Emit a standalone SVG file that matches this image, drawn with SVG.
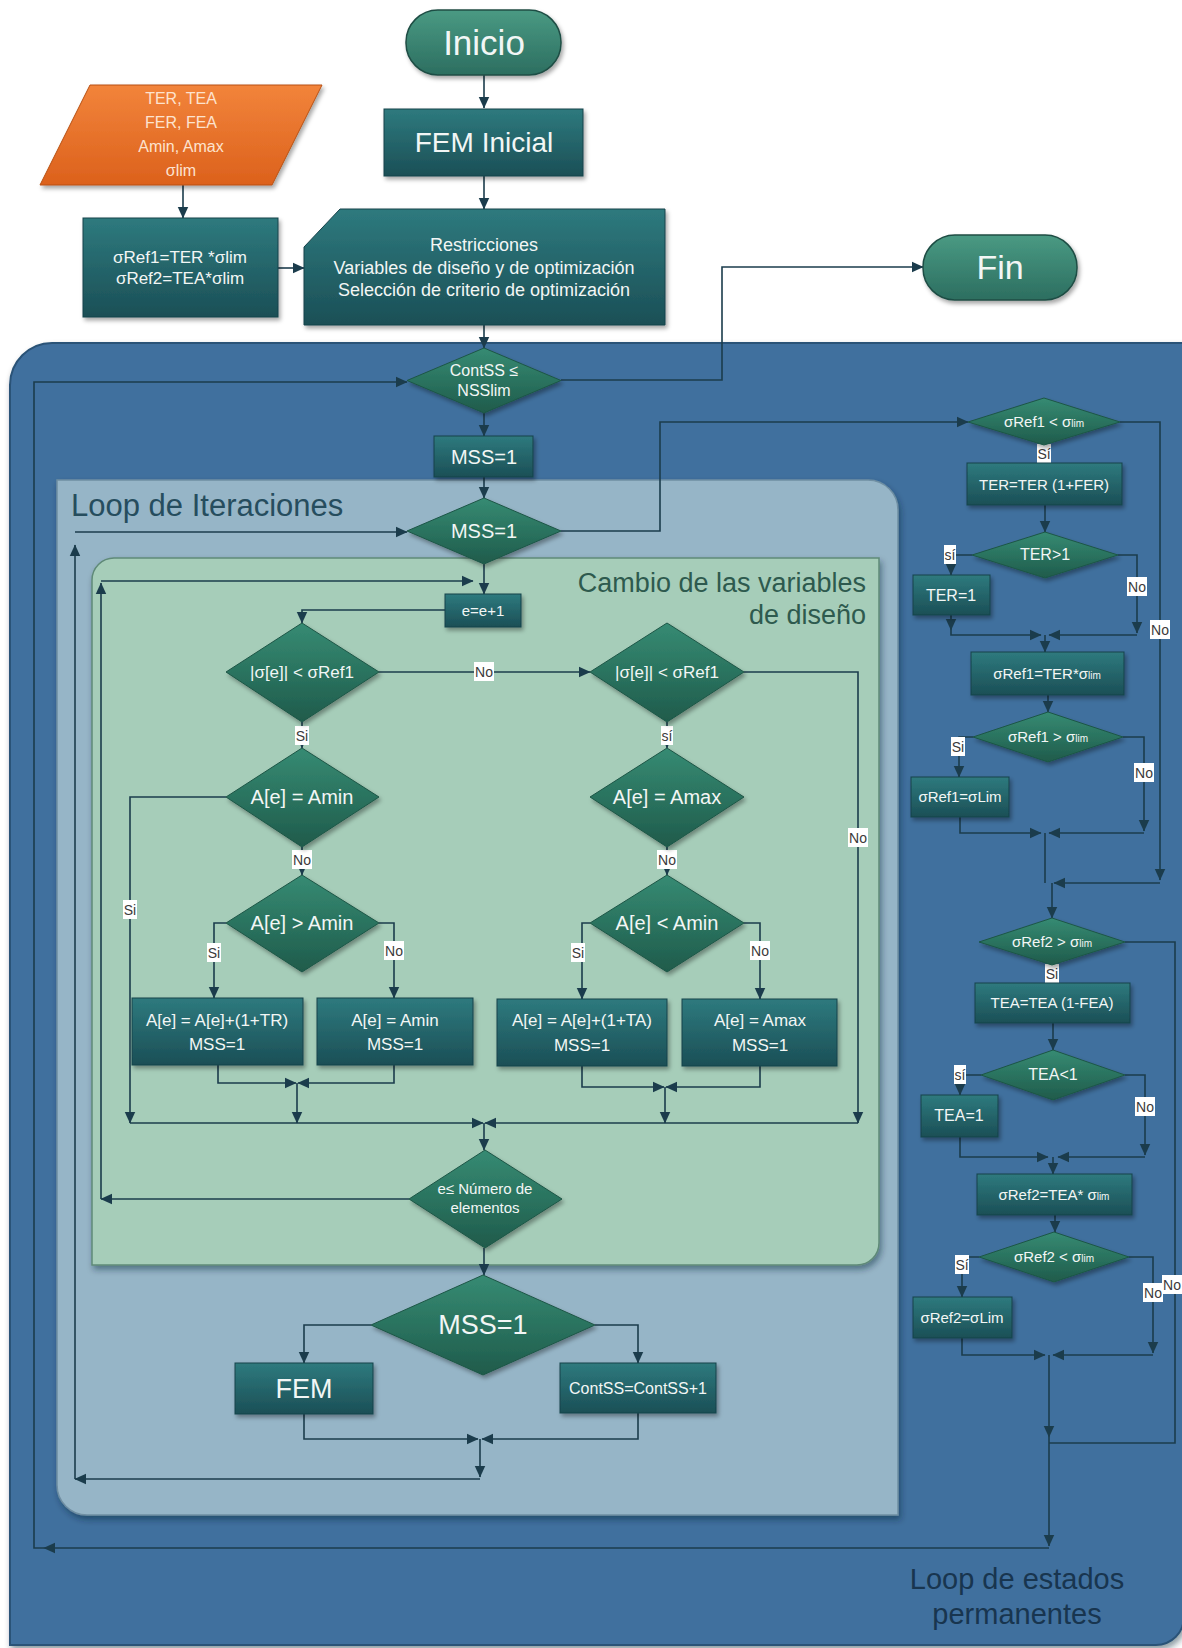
<svg xmlns="http://www.w3.org/2000/svg" width="1182" height="1648" viewBox="0 0 1182 1648">
<defs>
<linearGradient id="gBox" x1="0" y1="0" x2="0" y2="1"><stop offset="0" stop-color="#2e7a7e"/><stop offset="1" stop-color="#1b4f56"/></linearGradient>
<linearGradient id="gDia" x1="0" y1="0" x2="0" y2="1"><stop offset="0" stop-color="#368b73"/><stop offset="1" stop-color="#1f5b4b"/></linearGradient>
<linearGradient id="gPill" x1="0" y1="0" x2="0" y2="1"><stop offset="0" stop-color="#4a9a83"/><stop offset="1" stop-color="#2c6e60"/></linearGradient>
<linearGradient id="gOr" x1="0" y1="0" x2="0" y2="1"><stop offset="0" stop-color="#f2843b"/><stop offset="1" stop-color="#dc611c"/></linearGradient>
<filter id="sh" x="-10%" y="-10%" width="130%" height="140%"><feDropShadow dx="2" dy="3" stdDeviation="2" flood-color="#000" flood-opacity="0.35"/></filter>
<filter id="shc" x="-5%" y="-5%" width="110%" height="110%"><feDropShadow dx="2" dy="4" stdDeviation="3" flood-color="#0d2233" flood-opacity="0.45"/></filter>
<marker id="ah" viewBox="0 0 10 10" refX="9.5" refY="5" markerWidth="12" markerHeight="12" markerUnits="userSpaceOnUse" orient="auto"><path d="M0,0.5 L10,5 L0,9.5 z" fill="#1b3c4c"/></marker>
<style>
.cn{fill:none;stroke:#1b3c4c;stroke-width:1.6;marker-end:url(#ah)}
.cn0{fill:none;stroke:#1b3c4c;stroke-width:1.6}
.box{fill:url(#gBox);stroke:#17434a;stroke-width:1;filter:url(#sh)}
.dia{fill:url(#gDia);stroke:#1d5646;stroke-width:1;filter:url(#sh)}
.pill{fill:url(#gPill);stroke:#1f4d44;stroke-width:1.5;filter:url(#sh)}
text{font-family:"Liberation Sans",Arial,sans-serif}
.t{fill:#f2f6f5;text-anchor:middle}
.lb rect{fill:#ffffff}
.lb text{fill:#3a3a3a;font-size:14px;text-anchor:middle}
.sub{font-size:10px}
</style>
</defs>
<rect width="1182" height="1648" fill="#ffffff"/>

<g id="containers">
<path d="M10,1645 V385 A42,42 0 0 1 52,343 H1184 V1617 A28,28 0 0 1 1156,1645 Z" fill="#416f9e" stroke="#2a5377" stroke-width="2" filter="url(#shc)"/>
<path d="M57,480 H868 A30,30 0 0 1 898,510 V1515 H87 A30,30 0 0 1 57,1485 Z" fill="#96b5c7" stroke="#6f8fa3" stroke-width="1.5" filter="url(#shc)"/>
<path d="M92,1265 V580 A22,22 0 0 1 114,558 H879 V1243 A22,22 0 0 1 857,1265 Z" fill="#a6cdb9" stroke="#5f8a78" stroke-width="1.5" filter="url(#shc)"/>
<text x="71" y="516" font-size="31" fill="#264d5e">Loop de Iteraciones</text>
<text x="866" y="592" font-size="27" fill="#2e5a4e" text-anchor="end">Cambio de las variables</text>
<text x="866" y="624" font-size="27" fill="#2e5a4e" text-anchor="end">de diseño</text>
<text x="1017" y="1589" font-size="29" fill="#18354f" text-anchor="middle">Loop de estados</text>
<text x="1017" y="1624" font-size="29" fill="#18354f" text-anchor="middle">permanentes</text>
</g>

<g id="connectors">
<path class="cn" d="M484,75 V108"/>
<path class="cn" d="M484,176 V209"/>
<path class="cn" d="M183,185 V218"/>
<path class="cn" d="M278,268 H304"/>
<path class="cn" d="M484,325 V348"/>
<path class="cn" d="M484,413 V436"/>
<path class="cn" d="M484,477 V498"/>
<path class="cn" d="M484,564 V594"/>
<path class="cn" d="M561,380 H722 V267 H923"/>
<path class="cn" d="M561,531 H660 V422 H968"/>
<path class="cn" d="M445,610 H302 V623"/>
<path class="cn" d="M379,672 H590"/>
<path class="cn" d="M302,722 V748"/>
<path class="cn" d="M226,797 H130 V1123"/>
<path class="cn" d="M302,847 V875"/>
<path class="cn" d="M226,923 H214 V998"/>
<path class="cn" d="M379,923 H394 V998"/>
<path class="cn" d="M218,1065 V1083 H296"/>
<path class="cn" d="M394,1065 V1083 H298"/>
<path class="cn" d="M297,1083 V1123"/>
<path class="cn" d="M667,722 V748"/>
<path class="cn" d="M744,672 H858 V1123"/>
<path class="cn" d="M667,847 V875"/>
<path class="cn" d="M590,923 H582 V999"/>
<path class="cn" d="M744,923 H760 V999"/>
<path class="cn" d="M582,1066 V1087 H664"/>
<path class="cn" d="M760,1066 V1087 H666"/>
<path class="cn" d="M665,1087 V1123"/>
<path class="cn" d="M130,1123 H483"/>
<path class="cn" d="M858,1123 H485"/>
<path class="cn" d="M484,1123 V1150"/>
<path class="cn" d="M409,1199 H101"/>
<path class="cn" d="M101,1199 V583"/>
<path class="cn" d="M101,581 H473"/>
<path class="cn" d="M484,1248 V1275"/>
<path class="cn" d="M371,1325 H304 V1363"/>
<path class="cn" d="M595,1325 H638 V1363"/>
<path class="cn" d="M304,1414 V1439 H478"/>
<path class="cn" d="M638,1413 V1439 H482"/>
<path class="cn" d="M480,1439 V1477"/>
<path class="cn" d="M480,1479 H75"/>
<path class="cn" d="M75,1479 V545"/>
<path class="cn" d="M75,532 H407"/>
<path class="cn" d="M1044,445 V463"/>
<path class="cn" d="M1045,505 V532"/>
<path class="cn" d="M972,555 H951 V575"/>
<path class="cn" d="M1118,555 H1137 V633"/>
<path class="cn" d="M951,615 V630"/>
<path class="cn" d="M951,630 V635 H1041"/>
<path class="cn" d="M1137,635 H1049"/>
<path class="cn" d="M1045,635 V652"/>
<path class="cn" d="M1120,422 H1160 V880"/>
<path class="cn" d="M1048,695 V712"/>
<path class="cn" d="M973,737 H959 V777"/>
<path class="cn" d="M1123,737 H1144 V831"/>
<path class="cn" d="M960,817 V833 H1041"/>
<path class="cn" d="M1144,833 H1049"/>
<path class="cn0" d="M1045,833 V883"/>
<path class="cn" d="M1160,883 H1054"/>
<path class="cn" d="M1052,883 V918"/>
<path class="cn" d="M1052,965 V983"/>
<path class="cn0" d="M1125,942 H1175 V1443 H1049"/>
<path class="cn" d="M1053,1023 V1050"/>
<path class="cn" d="M981,1075 H960 V1095"/>
<path class="cn" d="M1125,1075 H1145 V1155"/>
<path class="cn" d="M960,1137 V1157 H1048"/>
<path class="cn" d="M1145,1157 H1058"/>
<path class="cn" d="M1053,1157 V1174"/>
<path class="cn" d="M1055,1215 V1232"/>
<path class="cn" d="M979,1257 H962 V1297"/>
<path class="cn" d="M1129,1257 H1153 V1353"/>
<path class="cn" d="M962,1338 V1355 H1045"/>
<path class="cn" d="M1153,1355 H1053"/>
<path class="cn" d="M1049,1355 V1437"/>
<path class="cn" d="M1049,1437 V1546"/>
<path class="cn" d="M1049,1548 H44"/>
<path class="cn" d="M44,1548 H34 V382 H407"/>

<g class="lb"><rect x="474" y="662" width="20" height="19"/><text x="484" y="677">No</text></g>
<g class="lb"><rect x="295" y="726" width="14" height="19"/><text x="302" y="741">Si</text></g>
<g class="lb"><rect x="123" y="900" width="14" height="19"/><text x="130" y="915">Si</text></g>
<g class="lb"><rect x="292" y="850" width="20" height="19"/><text x="302" y="865">No</text></g>
<g class="lb"><rect x="207" y="943" width="14" height="19"/><text x="214" y="958">Si</text></g>
<g class="lb"><rect x="384" y="941" width="20" height="19"/><text x="394" y="956">No</text></g>
<g class="lb"><rect x="661" y="726" width="12" height="19"/><text x="667" y="741">sí</text></g>
<g class="lb"><rect x="848" y="828" width="20" height="19"/><text x="858" y="843">No</text></g>
<g class="lb"><rect x="657" y="850" width="20" height="19"/><text x="667" y="865">No</text></g>
<g class="lb"><rect x="571" y="943" width="14" height="19"/><text x="578" y="958">Si</text></g>
<g class="lb"><rect x="750" y="941" width="20" height="19"/><text x="760" y="956">No</text></g>
<g class="lb"><rect x="1037" y="444" width="14" height="19"/><text x="1044" y="459">Sí</text></g>
<g class="lb"><rect x="944" y="545" width="12" height="19"/><text x="950" y="560">sí</text></g>
<g class="lb"><rect x="1127" y="577" width="20" height="19"/><text x="1137" y="592">No</text></g>
<g class="lb"><rect x="1150" y="620" width="20" height="19"/><text x="1160" y="635">No</text></g>
<g class="lb"><rect x="951" y="737" width="14" height="19"/><text x="958" y="752">Si</text></g>
<g class="lb"><rect x="1134" y="763" width="20" height="19"/><text x="1144" y="778">No</text></g>
<g class="lb"><rect x="1045" y="964" width="14" height="19"/><text x="1052" y="979">Si</text></g>
<g class="lb"><rect x="954" y="1065" width="12" height="19"/><text x="960" y="1080">sí</text></g>
<g class="lb"><rect x="1135" y="1097" width="20" height="19"/><text x="1145" y="1112">No</text></g>
<g class="lb"><rect x="955" y="1255" width="14" height="19"/><text x="962" y="1270">Sí</text></g>
<g class="lb"><rect x="1143" y="1283" width="20" height="19"/><text x="1153" y="1298">No</text></g>
<g class="lb"><rect x="1162" y="1275" width="20" height="19"/><text x="1172" y="1290">No</text></g>
</g>

<g id="n-inicio"><rect class="pill" x="406" y="10" width="155" height="65" rx="32"/><text class="t" x="484" y="55" font-size="35">Inicio</text></g>
<g id="n-fin"><rect class="pill" x="923" y="235" width="154" height="65" rx="32"/><text class="t" x="1000" y="279" font-size="34">Fin</text></g>
<g id="n-feminicial"><rect class="box" x="384" y="109" width="199" height="67"/><text class="t" x="484" y="152" font-size="28">FEM Inicial</text></g>
<g id="n-input"><polygon points="90,85 322,85 272,185 40,185" fill="url(#gOr)" stroke="#b85013" stroke-width="1" filter="url(#sh)"/>
<text x="181" y="104" font-size="16" fill="#fde3cf" text-anchor="middle">TER, TEA</text>
<text x="181" y="128" font-size="16" fill="#fde3cf" text-anchor="middle">FER, FEA</text>
<text x="181" y="152" font-size="16" fill="#fde3cf" text-anchor="middle">Amin, Amax</text>
<text x="181" y="176" font-size="16" fill="#fde3cf" text-anchor="middle">σlim</text></g>
<g id="n-sref"><rect class="box" x="83" y="218" width="195" height="99"/><text class="t" x="180" y="263" font-size="17">σRef1=TER *σlim</text><text class="t" x="180" y="284" font-size="17">σRef2=TEA*σlim</text></g>
<g id="n-restricciones"><polygon class="box" points="304,247 340,209 665,209 665,325 304,325"/>
<text class="t" x="484" y="251" font-size="18">Restricciones</text>
<text class="t" x="484" y="274" font-size="18">Variables de diseño y de optimización</text>
<text class="t" x="484" y="296" font-size="18">Selección de criterio de optimización</text></g>
<g id="n-contss"><polygon class="dia" points="484,348 561,380.5 484,413 407,380.5"/><text class="t" x="484" y="376" font-size="16">ContSS ≤</text><text class="t" x="484" y="396" font-size="16">NSSlim</text></g>
<g id="n-mssbox"><rect class="box" x="434" y="436" width="99" height="41"/><text class="t" x="484" y="464" font-size="20">MSS=1</text></g>
<g id="n-mssdia"><polygon class="dia" points="484,498 561,531 484,564 407,531"/><text class="t" x="484" y="538" font-size="20">MSS=1</text></g>
<g id="n-einc"><rect class="box" x="445" y="594" width="76" height="33"/><text class="t" x="483" y="616" font-size="15">e=e+1</text></g>
<g id="n-d1"><polygon class="dia" points="302,623 379,672 302,722 226,672"/><text class="t" x="302" y="678" font-size="17">|σ[e]| &lt; σRef1</text></g>
<g id="n-d2"><polygon class="dia" points="667,623 744,672 667,722 590,672"/><text class="t" x="667" y="678" font-size="17">|σ[e]| &lt; σRef1</text></g>
<g id="n-amin"><polygon class="dia" points="302,748 379,797 302,847 226,797"/><text class="t" x="302" y="804" font-size="20">A[e] = Amin</text></g>
<g id="n-amax"><polygon class="dia" points="667,748 744,797 667,847 590,797"/><text class="t" x="667" y="804" font-size="20">A[e] = Amax</text></g>
<g id="n-agt"><polygon class="dia" points="302,875 379,923 302,972 226,923"/><text class="t" x="302" y="930" font-size="20">A[e] &gt; Amin</text></g>
<g id="n-alt"><polygon class="dia" points="667,875 744,923 667,972 590,923"/><text class="t" x="667" y="930" font-size="20">A[e] &lt; Amin</text></g>
<g id="n-b1"><rect class="box" x="132" y="998" width="171" height="67"/><text class="t" x="217" y="1026" font-size="17">A[e] = A[e]+(1+TR)</text><text class="t" x="217" y="1050" font-size="17">MSS=1</text></g>
<g id="n-b2"><rect class="box" x="317" y="998" width="156" height="67"/><text class="t" x="395" y="1026" font-size="17">A[e] = Amin</text><text class="t" x="395" y="1050" font-size="17">MSS=1</text></g>
<g id="n-b3"><rect class="box" x="497" y="999" width="170" height="67"/><text class="t" x="582" y="1026" font-size="17">A[e] = A[e]+(1+TA)</text><text class="t" x="582" y="1051" font-size="17">MSS=1</text></g>
<g id="n-b4"><rect class="box" x="682" y="999" width="155" height="67"/><text class="t" x="760" y="1026" font-size="17">A[e] = Amax</text><text class="t" x="760" y="1051" font-size="17">MSS=1</text></g>
<g id="n-enum"><polygon class="dia" points="485,1150 562,1199 485,1248 409,1199"/><text class="t" x="485" y="1194" font-size="15">e≤ Número de</text><text class="t" x="485" y="1213" font-size="15">elementos</text></g>
<g id="n-mssbig"><polygon class="dia" points="483,1275 595,1325 483,1375 371,1325"/><text class="t" x="483" y="1334" font-size="27">MSS=1</text></g>
<g id="n-fem"><rect class="box" x="235" y="1363" width="138" height="51"/><text class="t" x="304" y="1398" font-size="27">FEM</text></g>
<g id="n-continc"><rect class="box" x="560" y="1363" width="156" height="50"/><text class="t" x="638" y="1394" font-size="16">ContSS=ContSS+1</text></g>

<g id="n-r1"><polygon class="dia" points="1044,398 1120,422 1044,445 968,422"/><text class="t" x="1044" y="427" font-size="15">σRef1 &lt; σ<tspan class="sub">lim</tspan></text></g>
<g id="n-r2"><rect class="box" x="967" y="463" width="155" height="42"/><text class="t" x="1044" y="490" font-size="15">TER=TER (1+FER)</text></g>
<g id="n-r3"><polygon class="dia" points="1045,532 1118,555 1045,578 972,555"/><text class="t" x="1045" y="560" font-size="16">TER&gt;1</text></g>
<g id="n-r4"><rect class="box" x="913" y="575" width="77" height="40"/><text class="t" x="951" y="601" font-size="16">TER=1</text></g>
<g id="n-r5"><rect class="box" x="971" y="652" width="153" height="43"/><text class="t" x="1047" y="679" font-size="15">σRef1=TER*σ<tspan class="sub">lim</tspan></text></g>
<g id="n-r6"><polygon class="dia" points="1048,712 1123,737 1048,762 973,737"/><text class="t" x="1048" y="742" font-size="15">σRef1 &gt; σ<tspan class="sub">lim</tspan></text></g>
<g id="n-r7"><rect class="box" x="911" y="777" width="98" height="40"/><text class="t" x="960" y="802" font-size="15">σRef1=σLim</text></g>
<g id="n-r8"><polygon class="dia" points="1052,918 1125,942 1052,965 979,942"/><text class="t" x="1052" y="947" font-size="15">σRef2 &gt; σ<tspan class="sub">lim</tspan></text></g>
<g id="n-r9"><rect class="box" x="975" y="983" width="155" height="40"/><text class="t" x="1052" y="1008" font-size="15">TEA=TEA (1-FEA)</text></g>
<g id="n-r10"><polygon class="dia" points="1053,1050 1125,1075 1053,1100 981,1075"/><text class="t" x="1053" y="1080" font-size="16">TEA&lt;1</text></g>
<g id="n-r11"><rect class="box" x="921" y="1095" width="77" height="42"/><text class="t" x="959" y="1121" font-size="16">TEA=1</text></g>
<g id="n-r12"><rect class="box" x="977" y="1174" width="155" height="41"/><text class="t" x="1054" y="1200" font-size="15">σRef2=TEA* σ<tspan class="sub">lim</tspan></text></g>
<g id="n-r13"><polygon class="dia" points="1054,1232 1129,1257 1054,1282 979,1257"/><text class="t" x="1054" y="1262" font-size="15">σRef2 &lt; σ<tspan class="sub">lim</tspan></text></g>
<g id="n-r14"><rect class="box" x="913" y="1297" width="99" height="41"/><text class="t" x="962" y="1323" font-size="15">σRef2=σLim</text></g>
</svg>
